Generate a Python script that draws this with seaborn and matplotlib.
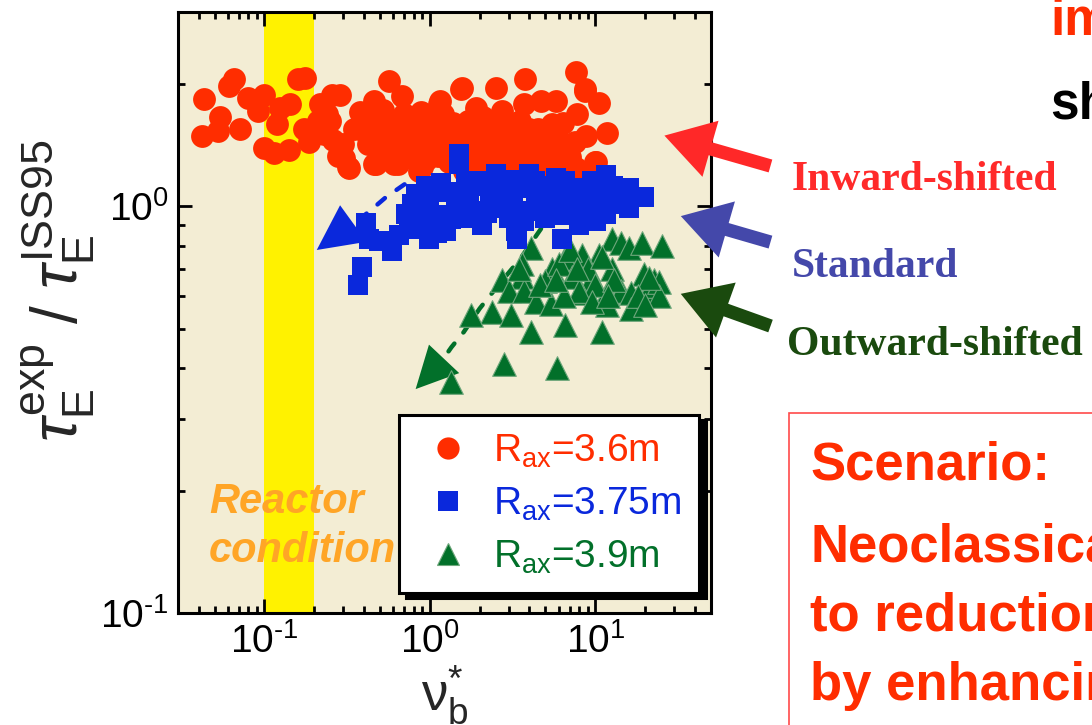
import numpy as np
import pandas as pd
import matplotlib
matplotlib.use("Agg")
import matplotlib.pyplot as plt
import seaborn as sns
from matplotlib.lines import Line2D
from matplotlib.patches import Rectangle, FancyArrowPatch
from matplotlib.ticker import LogLocator, NullFormatter, FuncFormatter

# --- data (nu*_b, tau_E^exp / tau_E^ISS95) ---
inward_nu = [0.065, 0.061, 0.043, 0.080, 0.099, 0.054, 0.042, 0.052, 0.071, 0.092,
             0.100, 0.114, 0.141, 0.159, 0.175, 0.124, 0.143, 0.119, 0.173, 0.185,
             0.216, 0.255, 0.286, 0.229, 0.302, 0.324, 0.458, 0.565, 0.677, 0.458,
             0.606, 0.399, 0.527, 0.757, 1.54, 2.51, 3.75, 7.6, 8.7, 10.5,
             7.7, 3.70, 4.69, 5.78, 2.72, 3.97, 5.47, 8.8, 11.7, 9.95,
             6.7, 5.0, 3.45, 1.13, 1.90, 2.18, 1.36, 0.99, 1.65, 2.61,
             3.80, 6.6, 7.96, 0.28, 0.32, 0.47, 0.64, 0.86, 1.15, 1.56,
             2.3, 3.8, 6.3, 7.6, 10.1, 8.65,
             0.35, 0.38, 0.42, 0.45, 0.50, 0.52, 0.55, 0.60, 0.62, 0.68,
             0.70, 0.72, 0.78, 0.80, 0.85, 0.88, 0.92, 0.95, 1.0, 1.05,
             1.1, 1.12, 1.2, 1.25, 1.3, 1.38, 1.45, 1.5, 1.6, 1.7,
             1.75, 1.85, 1.95, 2.0, 2.1, 2.2, 2.4, 2.5, 2.7, 2.9,
             3.1, 3.3, 3.5, 3.7, 4.0, 4.3, 4.5, 4.8, 5.2, 5.6,
             6.0, 6.4, 7.0, 7.5, 0.9, 1.6, 2.8, 4.6, 0.25, 0.30,
             0.21, 0.24, 0.26, 0.20]
inward_tau = [2.05, 1.97, 1.83, 1.84, 1.88, 1.66, 1.49, 1.53, 1.55, 1.71,
              1.39, 1.35, 1.37, 2.05, 2.07, 1.74, 1.78, 1.59, 1.55, 1.44,
              1.78, 1.88, 1.88, 1.50, 1.31, 1.24, 1.81, 2.03, 1.86, 1.27,
              1.27, 1.53, 1.50, 1.64, 1.94, 1.95, 2.05, 2.13, 1.94, 1.79,
              1.68, 1.78, 1.81, 1.81, 1.71, 1.55, 1.59, 1.49, 1.51, 1.28,
              1.37, 1.42, 1.47, 1.78, 1.74, 1.55, 1.55, 1.47, 1.37, 1.37,
              1.34, 1.29, 1.22, 1.33, 1.25, 1.27, 1.27, 1.22, 1.81, 1.95,
              1.34, 1.22, 1.37, 1.24, 1.28, 1.92,
              1.55, 1.70, 1.42, 1.62, 1.35, 1.72, 1.45, 1.58, 1.38, 1.50,
              1.68, 1.32, 1.45, 1.58, 1.36, 1.70, 1.50, 1.30, 1.62, 1.42,
              1.55, 1.33, 1.68, 1.45, 1.28, 1.60, 1.40, 1.52, 1.30, 1.62,
              1.45, 1.35, 1.55, 1.27, 1.66, 1.42, 1.50, 1.30, 1.58, 1.38,
              1.46, 1.28, 1.62, 1.36, 1.44, 1.30, 1.55, 1.34, 1.50, 1.26,
              1.45, 1.60, 1.32, 1.44, 1.25, 1.22, 1.22, 1.22, 1.62, 1.42,
              1.62, 1.68, 1.45, 1.50]

standard_nu = [1.50, 1.50, 1.16, 0.83, 0.41, 0.43, 0.49, 0.59, 0.65, 0.75,
               0.39, 0.37, 0.86, 0.99, 1.25, 1.56, 2.06, 2.06, 2.5, 3.3,
               3.35, 3.97, 4.37, 5.78, 6.3, 7.95, 10.5, 10.1, 14.5, 15.9,
               19.7, 6.3, 1.72, 1.43, 0.99, 2.73, 5.0, 6.9, 8.3, 3.6,
               0.78, 0.72, 3.0, 1.9, 13.3, 11.6, 11.6, 15.9,
               1.1, 1.3, 1.8, 2.3, 2.8, 3.2, 4.0, 4.6, 5.4, 6.0,
               7.2, 8.8, 9.5, 12.0, 0.9, 1.1,
               0.95, 1.35, 1.65, 2.2, 2.6, 3.1, 3.7, 4.3, 5.0, 5.6,
               6.6, 7.6, 8.5, 9.2, 10.8, 12.8]
standard_tau = [1.27, 1.34, 1.14, 1.07, 0.91, 0.83, 0.82, 0.775, 0.85, 0.88,
                0.71, 0.64, 0.955, 0.83, 0.87, 0.935, 0.90, 1.15, 1.20, 0.87,
                0.83, 1.20, 1.03, 1.17, 0.83, 0.90, 1.13, 0.92, 1.09, 0.99,
                1.05, 1.09, 1.03, 1.03, 1.03, 0.99, 0.935, 0.99, 1.11, 1.11,
                1.01, 0.955, 0.935, 0.97, 1.01, 0.955, 1.19, 1.11,
                0.95, 1.08, 1.12, 1.05, 1.14, 1.02, 0.97, 1.12, 1.05, 0.95,
                1.06, 1.00, 1.15, 1.08, 0.90, 0.86,
                1.12, 0.93, 1.15, 0.96, 1.08, 1.16, 0.92, 1.15, 1.10, 0.98,
                1.15, 0.97, 1.05, 0.93, 1.02, 1.12]

outward_nu = [4.08, 12.6, 14.3, 16.0, 19.1, 25.3, 10.5, 8.3, 6.6, 3.6,
              5.5, 12.6, 19.7, 22.6, 2.72, 3.6, 7.2, 9.5, 5.0, 3.0,
              3.7, 8.2, 11.7, 14.3, 16.4, 22.6, 21.7, 4.4, 5.4, 2.37,
              3.1, 11.7, 16.4, 1.77, 4.08, 6.6, 11.0, 2.8, 5.9, 1.34,
              24.3, 24.3, 21.0, 3.45,
              6.0, 7.0, 9.0, 10.0, 8.0, 6.5, 11.0, 13.0, 9.5, 4.6,
              5.8, 12.0, 18.0, 20.0, 7.8]
outward_tau = [0.79, 0.83, 0.81, 0.79, 0.81, 0.80, 0.76, 0.76, 0.745, 0.72,
               0.70, 0.70, 0.68, 0.66, 0.66, 0.67, 0.67, 0.665, 0.655, 0.62,
               0.62, 0.61, 0.61, 0.62, 0.61, 0.61, 0.635, 0.58, 0.575, 0.55,
               0.54, 0.57, 0.56, 0.54, 0.49, 0.51, 0.49, 0.41, 0.40, 0.37,
               0.65, 0.60, 0.665, 0.70,
               0.72, 0.78, 0.70, 0.64, 0.62, 0.60, 0.75, 0.66, 0.58, 0.64,
               0.66, 0.60, 0.60, 0.57, 0.70]

# dashed guide curves (shift of the data when the axis moves)
standard_path_nu = [0.95, 0.70, 0.54, 0.43, 0.34, 0.30]
standard_path_tau = [1.20, 1.13, 1.05, 0.97, 0.90, 0.87]
standard_tip = (0.207, 0.78)
outward_path_nu = [4.7, 3.5, 2.6, 2.0, 1.6, 1.35, 1.15, 1.05]
outward_path_tau = [0.88, 0.74, 0.64, 0.56, 0.49, 0.45, 0.41, 0.395]
outward_tip = (0.82, 0.355)

reactor_band = (0.1, 0.2)

RED = "#FF2D00"
BLUE = "#0A28DC"
GREEN = "#02702A"
BEIGE = "#F3EDD4"
YELLOW = "#FFF200"
ORANGE = "#FFA526"

sns.set_style("ticks")
plt.rcParams["font.family"] = ["Liberation Sans", "DejaVu Sans"]
plt.rcParams["mathtext.fontset"] = "custom"
plt.rcParams["mathtext.rm"] = "Liberation Sans"
plt.rcParams["mathtext.it"] = "Liberation Sans:italic"
plt.rcParams["mathtext.bf"] = "Liberation Sans:bold"
plt.rcParams["mathtext.default"] = "regular"


def decade_label(v, pos):
    # 10^n with a plain hyphen, like the original plot
    e = int(round(np.log10(v)))
    return r"$10^{%s}$" % str(e).replace("-", r"\text{-}")


inward = pd.DataFrame({"nu": inward_nu, "tau": inward_tau})
standard = pd.DataFrame({"nu": standard_nu, "tau": standard_tau})
outward = pd.DataFrame({"nu": outward_nu, "tau": outward_tau})

fig = plt.figure(figsize=(10.92, 7.25), dpi=100)
ax = fig.add_axes([0.163, 0.1545, 0.488, 0.829])
ax.set_facecolor(BEIGE)
ax.set_xscale("log")
ax.set_yscale("log")

ax.axvspan(*reactor_band, color=YELLOW, lw=0, zorder=0.5)

ax.plot(standard_path_nu, standard_path_tau, ls=(0, (2.2, 3.2)), lw=3.2,
        color=BLUE, dash_capstyle="round", zorder=2.5)
ax.annotate("", xy=standard_tip, xytext=(standard_path_nu[-1], standard_path_tau[-1]),
            arrowprops=dict(arrowstyle="-|>,head_length=1.3,head_width=0.65",
                            mutation_scale=25, color=BLUE, lw=0,
                            shrinkA=0, shrinkB=0), zorder=2.5)
ax.plot(outward_path_nu, outward_path_tau, ls=(0, (2.2, 3.2)), lw=3.2,
        color=GREEN, dash_capstyle="round", zorder=2.5)
ax.annotate("", xy=outward_tip, xytext=(outward_path_nu[-1], outward_path_tau[-1]),
            arrowprops=dict(arrowstyle="-|>,head_length=1.3,head_width=0.65",
                            mutation_scale=23, color=GREEN, lw=0,
                            shrinkA=0, shrinkB=0), zorder=2.5)

sns.scatterplot(data=outward, x="nu", y="tau", marker="^", s=290, color=GREEN,
                edgecolor="#6fa77c", linewidth=0.8, ax=ax, zorder=3, legend=False)
sns.scatterplot(data=inward, x="nu", y="tau", marker="o", s=270, color=RED,
                linewidth=0, ax=ax, zorder=4, legend=False)
sns.scatterplot(data=standard, x="nu", y="tau", marker="s", s=220, color=BLUE,
                linewidth=0, ax=ax, zorder=5, legend=False)

ax.set_xlim(0.03, 50)
ax.set_ylim(0.1, 3)

for axis in (ax.xaxis, ax.yaxis):
    axis.set_major_locator(LogLocator(base=10, numticks=10))
    axis.set_minor_locator(LogLocator(base=10, subs=np.arange(2, 10), numticks=20))
    axis.set_major_formatter(FuncFormatter(decade_label))
    axis.set_minor_formatter(NullFormatter())
ax.tick_params(which="both", direction="in", top=True, right=True,
               labelsize=28, width=2, colors="black")
ax.tick_params(which="major", length=10, pad=7)
ax.tick_params(which="minor", length=5)
for sp in ax.spines.values():
    sp.set_linewidth(2.2)
    sp.set_color("black")

ax.set_xlabel(r"$\nu^{*}_{b}$", fontsize=38, labelpad=2)
ax.set_ylabel(r"$\mathit{\tau}_{E}^{exp}\ /\ \mathit{\tau}_{E}^{ISS95}$", fontsize=46)
ax.yaxis.set_label_coords(-0.152, 0.536)

ax.text(0.058, 0.166, "Reactor", transform=ax.transAxes, fontsize=30,
        fontweight="bold", fontstyle="italic", color=ORANGE, zorder=6)
ax.text(0.058, 0.085, "condition", transform=ax.transAxes, fontsize=30,
        fontweight="bold", fontstyle="italic", color=ORANGE, zorder=6)

handles = [
    Line2D([], [], ls="", marker="o", ms=16, color=RED, mew=0),
    Line2D([], [], ls="", marker="s", ms=14, color=BLUE, mew=0),
    Line2D([], [], ls="", marker="^", ms=16, color=GREEN, mew=0.8, mec="#6fa77c"),
]
labels = [r"R$_{ax}$=3.6m", r"R$_{ax}$=3.75m", r"R$_{ax}$=3.9m"]
leg = ax.legend(handles, labels, loc="lower right", bbox_to_anchor=(0.977, 0.033),
                borderaxespad=0, fontsize=28, frameon=True, fancybox=False,
                framealpha=1, edgecolor="black", borderpad=0.45, labelspacing=0.4,
                handlelength=1.6, handletextpad=0.35,
                shadow={"ox": 5, "oy": -3.6, "facecolor": "black",
                        "edgecolor": "black", "alpha": 1})
leg.get_frame().set_linewidth(2.2)
leg.set_zorder(7)
for txt, c in zip(leg.get_texts(), [RED, BLUE, GREEN]):
    txt.set_color(c)

# annotations to the right of the plot
fig.text(0.725, 0.738, "Inward-shifted", fontsize=30, fontweight="bold",
         family="Liberation Serif", color="#FF2A2A")
fig.text(0.725, 0.618, "Standard", fontsize=30, fontweight="bold",
         family="Liberation Serif", color="#4448AA")
fig.text(0.7207, 0.510, "Outward-shifted", fontsize=30, fontweight="bold",
         family="Liberation Serif", color="#1A4A0E")

arrows = [((0.708, 0.770), (0.606, 0.814), "#FF2828"),
          ((0.708, 0.665), (0.621, 0.703), "#4448AA"),
          ((0.708, 0.549), (0.621, 0.596), "#1A4A0E")]
for tail, tip, c in arrows:
    fig.add_artist(FancyArrowPatch(tail, tip, transform=fig.transFigure,
                                   arrowstyle="simple,head_length=1.15,head_width=1.4,tail_width=0.32",
                                   mutation_scale=30, color=c, lw=0, zorder=8))

fig.text(0.9615, 0.952, "im", fontsize=37, fontweight="bold", color="#FF2D00")
fig.text(0.9615, 0.837, "sh", fontsize=37, fontweight="bold", color="black")

fig.add_artist(Rectangle((0.7225, -0.1), 0.5, 0.5303, transform=fig.transFigure,
                         fill=False, edgecolor="#FF4A4A", lw=1.2))
fig.text(0.742, 0.338, "Scenario:", fontsize=38, fontweight="bold", color="#FF2D00")
fig.text(0.742, 0.225, "Neoclassical", fontsize=38, fontweight="bold", color="#FF2D00")
fig.text(0.742, 0.131, "to reduction", fontsize=38, fontweight="bold", color="#FF2D00")
fig.text(0.742, 0.0345, "by enhancing", fontsize=38, fontweight="bold", color="#FF2D00")

fig.savefig("out.png", dpi=100, facecolor="white")
